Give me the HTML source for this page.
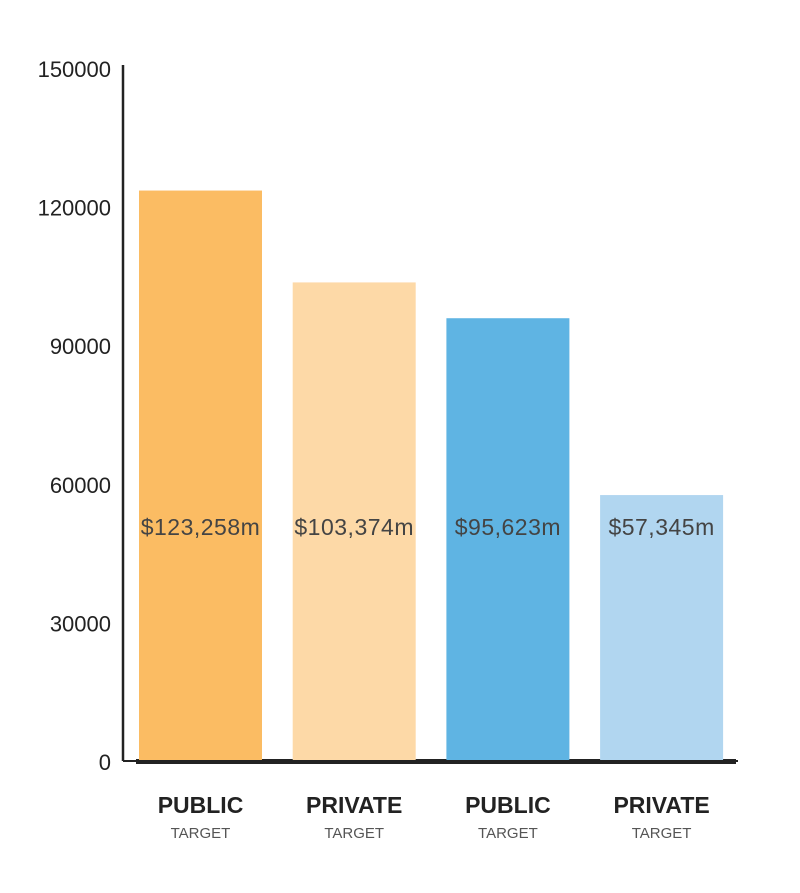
<!DOCTYPE html>
<html><head><meta charset="utf-8"><style>
body{margin:0;background:#fff;}
svg text{font-family:"Liberation Sans",sans-serif;}
</style></head><body>
<svg width="800" height="888">
<g id="axes"></g><g id="bars"></g><g id="labels"></g>
</svg>
<script>
const categories=["PUBLIC","PRIVATE","PUBLIC","PRIVATE"];
const subLabels=["TARGET","TARGET","TARGET","TARGET"];
const values=[123258,103374,95623,57345];
const valueLabels=["$123,258m","$103,374m","$95,623m","$57,345m"];
const colors=["#fbbc63","#fdd9a7","#5fb4e3","#b1d6f0"];
const ticks=[0,30000,60000,90000,120000,150000];
const NS="http://www.w3.org/2000/svg";
const y0=760,yTop=67,vmax=150000;
function y(v){return y0-(v/vmax)*(y0-yTop);}
function x(i){return 139+i*153.7;}
const bw=123;
function mk(t,a,p){const e=document.createElementNS(NS,t);for(const k in a)e.setAttribute(k,a[k]);p.appendChild(e);return e;}
const ax=document.getElementById('axes'),bg=document.getElementById('bars'),lg=document.getElementById('labels');
let l=mk('line',{x1:123,y1:65,x2:123,y2:761,stroke:'#222','stroke-width':2.5},ax);


ticks.forEach(t=>{const e=mk('text',{x:111,y:y(t)+10,'text-anchor':'end','font-size':22,fill:'#222'},ax);e.textContent=t;

});
values.forEach((v,i)=>{
const r=mk('rect',{x:x(i),y:y(v),width:bw,height:y0-y(v),fill:colors[i]},bg);


const t=mk('text',{x:x(i)+bw/2,y:535,'text-anchor':'middle','font-size':23,fill:'#444','letter-spacing':'0.5'},lg);t.textContent=valueLabels[i];


const c=mk('text',{x:x(i)+bw/2,y:813,'text-anchor':'middle','font-size':23,'font-weight':'bold',fill:'#222'},lg);c.textContent=categories[i];


const s=mk('text',{x:x(i)+bw/2,y:838,'text-anchor':'middle','font-size':15,fill:'#555'},lg);s.textContent=subLabels[i];


});
let b=mk('line',{x1:123,y1:761,x2:738,y2:761,stroke:'#222','stroke-width':2},ax);


let th=mk('rect',{x:136,y:759,width:600,height:5,fill:'#222'},ax);


</script>
</body></html>
